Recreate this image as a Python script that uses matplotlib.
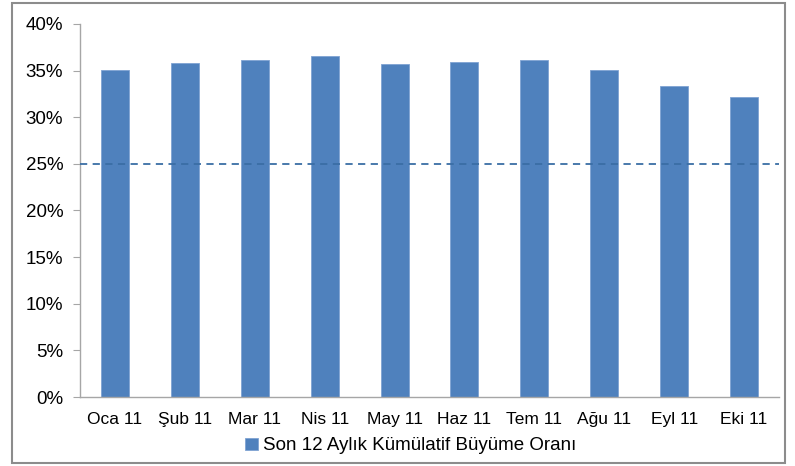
import matplotlib
matplotlib.use("Agg")
import matplotlib.pyplot as plt
from matplotlib.patches import Rectangle
from matplotlib.ticker import FuncFormatter, MultipleLocator

categories = ["Oca 11", "Şub 11", "Mar 11", "Nis 11", "May 11",
              "Haz 11", "Tem 11", "Ağu 11", "Eyl 11", "Eki 11"]
values = [35.1, 35.8, 36.1, 36.6, 35.7, 35.9, 36.1, 35.1, 33.3, 32.2]
threshold = 25
series_name = "Son 12 Aylık Kümülatif Büyüme Oranı"

plt.rcParams['font.family'] = ['Liberation Sans', 'DejaVu Sans']

fig = plt.figure(figsize=(7.95, 4.66), dpi=100)
ax = fig.add_axes([80/795, 1-397/466, 699/795, 373/466])

bar_color = "#4F81BD"
x = range(len(categories))
ax.bar(x, values, width=0.4, color=bar_color, edgecolor="#7FA3D3", linewidth=0.6,
       label=series_name, zorder=2)
ax.axhline(threshold, color="#3A6EA5", linestyle=(0, (4, 3)), linewidth=1.3, zorder=3)

ax.set_xlim(-0.5, len(categories) - 0.5)
ax.set_ylim(0, 40)
ax.yaxis.set_major_locator(MultipleLocator(5))
ax.yaxis.set_major_formatter(FuncFormatter(lambda v, p: f"{v:.0f}%"))
ax.set_xticks(list(x))
ax.set_xticklabels(categories)

for s in ["top", "right"]:
    ax.spines[s].set_visible(False)
for s in ["left", "bottom"]:
    ax.spines[s].set_color("#A6A6A6")
    ax.spines[s].set_linewidth(1.0)
ax.tick_params(axis="y", length=5, color="#A6A6A6", labelsize=13.5, pad=7)
ax.tick_params(axis="x", length=0, labelsize=12.5, pad=11)

fig.legend(loc="center", bbox_to_anchor=(411/795, 1-446/466), frameon=False,
           fontsize=13.5, handlelength=0.65, handleheight=0.65, handletextpad=0.3)

fig.patches.append(Rectangle((12/795, 1-463/466), 773/795, 460/466,
                             transform=fig.transFigure, fill=False,
                             edgecolor="#8C8C8C", linewidth=1.5))

fig.savefig("out.png", dpi=100)
